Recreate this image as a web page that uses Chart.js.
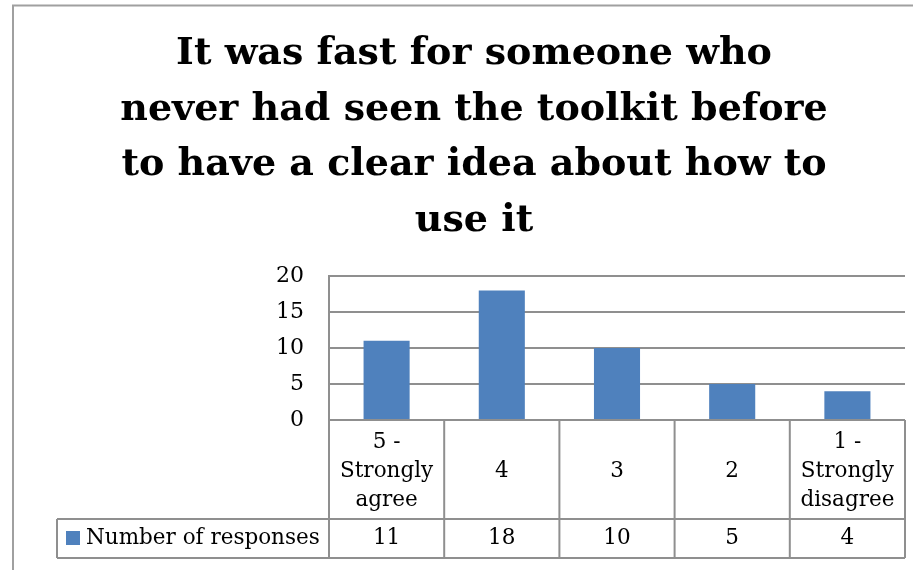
<!DOCTYPE html>
<html>
<head>
<meta charset="utf-8">
<title>Survey responses</title>
<script src="https://cdn.jsdelivr.net/npm/chart.js@4.4.1/dist/chart.umd.min.js"></script>
<style>
    html, body { margin: 0; padding: 0; background: #ffffff; }
    canvas { display: block; }
</style>
</head>
<body>
<canvas id="responsesChart" width="913" height="570"></canvas>
<script>
const chartTitle = [
    'It was fast for someone who',
    'never had seen the toolkit before',
    'to have a clear idea about how to',
    'use it'
];
const categories = [
    ['5 -', 'Strongly', 'agree'],
    '4',
    '3',
    '2',
    ['1 -', 'Strongly', 'disagree']
];
const seriesName = 'Number of responses';
const responses = [11, 18, 10, 5, 4];
const yTicks = [0, 5, 10, 15, 20];

const barBlue = '#4f81bd';
const lineGrey = '#8f8f8f';
const serif = "'DejaVu Serif', 'Liberation Serif', serif";

// outer frame of the chart object
const frame = {
    id: 'frame',
    beforeDraw(chart) {
        const ctx = chart.ctx;
        ctx.save();
        ctx.strokeStyle = '#a0a0a0';
        ctx.lineWidth = 2;
        ctx.beginPath();
        ctx.moveTo(13, 600);
        ctx.lineTo(13, 5.5);
        ctx.lineTo(920, 5.5);
        ctx.stroke();
        ctx.restore();
    }
};

// data table under the plot: category header row + legend/value row
const dataTable = {
    id: 'dataTable',
    afterDraw(chart) {
        const ctx = chart.ctx;
        const x = chart.scales.x;
        const area = chart.chartArea;
        const top = area.bottom;
        const rowTop = 519;
        const rowBottom = 558;
        const tableLeft = 57;

        const edges = [area.left];
        for (let i = 1; i < categories.length; i++) {
            edges.push((x.getPixelForValue(i - 1) + x.getPixelForValue(i)) / 2);
        }
        edges.push(area.right);

        ctx.save();
        ctx.strokeStyle = lineGrey;
        ctx.lineWidth = 2;
        ctx.beginPath();
        edges.forEach(e => {
            ctx.moveTo(e, top);
            ctx.lineTo(e, rowBottom);
        });
        ctx.moveTo(tableLeft, rowTop);
        ctx.lineTo(tableLeft, rowBottom);
        ctx.moveTo(tableLeft, rowTop);
        ctx.lineTo(area.right, rowTop);
        ctx.moveTo(tableLeft, rowBottom);
        ctx.lineTo(area.right, rowBottom);
        ctx.moveTo(area.left, top);
        ctx.lineTo(area.right, top);
        ctx.stroke();

        ctx.fillStyle = '#000000';
        ctx.font = '21.5px ' + serif;
        ctx.textAlign = 'center';
        ctx.textBaseline = 'middle';
        const lineGap = 29;
        const headMid = 471;
        categories.forEach((c, i) => {
            const lines = Array.isArray(c) ? c : [c];
            const cx = x.getPixelForValue(i);
            const y0 = headMid - (lines.length - 1) * lineGap / 2;
            lines.forEach((t, j) => ctx.fillText(t, cx, y0 + j * lineGap));
            ctx.fillText(String(responses[i]), cx, 538.5);
        });

        // legend key
        ctx.fillStyle = barBlue;
        ctx.fillRect(66, 531, 14, 14);
        ctx.fillStyle = '#000000';
        ctx.textAlign = 'left';
        ctx.fillText(seriesName, 86, 538.5);
        ctx.restore();
    }
};

new Chart(document.getElementById('responsesChart'), {
    type: 'bar',
    data: {
        labels: categories,
        datasets: [{
            label: seriesName,
            data: responses,
            backgroundColor: barBlue,
            barPercentage: 0.4,
            categoryPercentage: 1.0
        }]
    },
    options: {
        responsive: false,
        animation: false,
        layout: {
            padding: { left: 43, right: 8, top: 0, bottom: 150 }
        },
        plugins: {
            legend: { display: false },
            tooltip: { enabled: false },
            title: {
                display: true,
                text: chartTitle,
                color: '#000000',
                font: { family: serif, size: 38, weight: 'bold', lineHeight: 55.5 / 38 },
                padding: { top: 26.5, bottom: 27.5 }
            }
        },
        scales: {
            x: {
                display: false
            },
            y: {
                min: 0,
                max: 20,
                afterBuildTicks(scale) {
                    scale.ticks = yTicks.map(v => ({ value: v }));
                },
                afterFit(scale) {
                    scale.width = 286;
                },
                grid: {
                    color: lineGrey,
                    lineWidth: 2,
                    drawTicks: false
                },
                border: { display: true, color: lineGrey, width: 2 },
                ticks: {
                    color: '#000000',
                    padding: 25,
                    font: { family: serif, size: 22 }
                }
            }
        }
    },
    plugins: [frame, dataTable]
});
</script>
</body>
</html>
